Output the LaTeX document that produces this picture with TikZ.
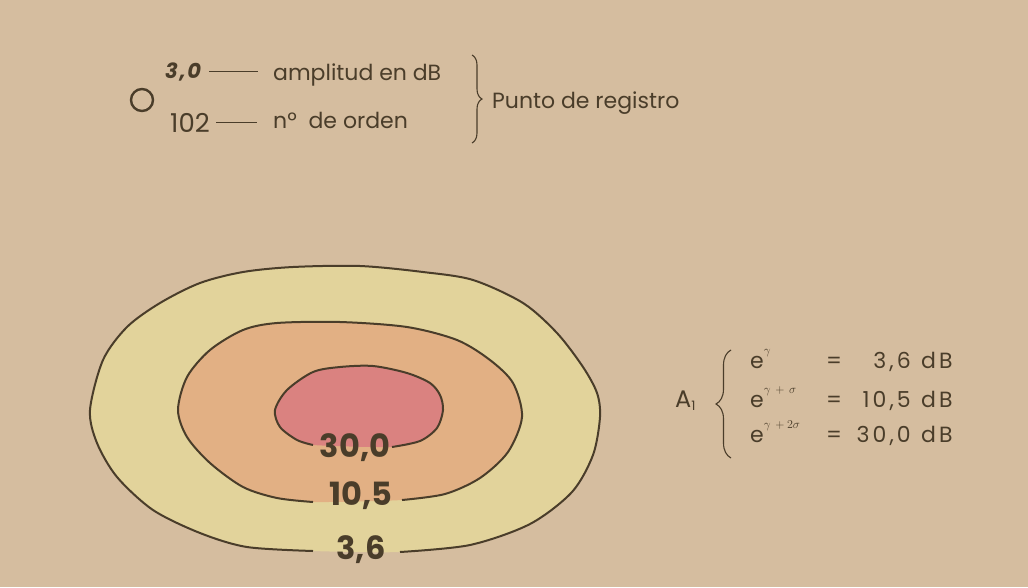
\documentclass[tikz,border=0pt]{standalone}
\usepackage{fontspec}
\setmainfont{Poppins}
\usetikzlibrary{decorations.pathreplacing,calc}
\definecolor{paper}{HTML}{D5BD9F}
\definecolor{zoneA}{HTML}{E2D39B}
\definecolor{zoneB}{HTML}{E2B084}
\definecolor{zoneC}{HTML}{DA8280}
\definecolor{ink}{HTML}{4A3D2A}
\newcommand{\gsup}[1]{\raisebox{0.6em}{\fontsize{13}{13}\selectfont$#1$}}

\begin{document}
\begin{tikzpicture}[x=1pt,y=-1pt,
  txt/.style={inner sep=0pt,text=ink,anchor=base west,font=\fontsize{22}{22}\selectfont},
  eq/.style={inner sep=0pt,text=ink,anchor=base west,font=\fontsize{22}{22}\selectfont\addfontfeature{LetterSpace=14}},
  iso/.style={inner sep=0pt,text=ink,font=\fontsize{32}{32}\selectfont\bfseries},
  contour/.style={draw=ink,line width=2pt},
  lead/.style={draw=ink,line width=1.3pt},
  curly/.style={draw=ink,line width=1.1pt,decorate}]
\fill[paper] (0,0) rectangle (1028,587);
\useasboundingbox (0,0) rectangle (1028,587);

% contour zones
\fill[zoneA] plot[smooth cycle,tension=0.5] coordinates {(400,552) (470,545) (530,524) (572,492) (593,455) (600,417) (597,393) (583,367) (557,333) (523,303) (473,280) (423,272) (360,266) (293,267) (243,272) (200,283) (160,303) (127,327) (103,360) (90,410) (97,443) (117,477) (153,510) (200,533) (247,547) (313,551)};
\fill[zoneB] plot[smooth cycle,tension=0.5] coordinates {(402,500) (445,494) (480,478) (508,452) (522,417) (513,383) (490,360) (457,340) (407,327) (340,322) (277,323) (243,330) (210,350) (187,377) (178,410) (187,437) (210,463) (243,487) (277,498) (313,502)};
\fill[zoneC] plot[smooth cycle,tension=0.5] coordinates {(392,447) (420,441) (437,428) (443,410) (440,395) (430,383) (407,373) (373,366) (340,367) (313,372) (287,390) (275,410) (280,427) (297,440) (313,445)};
\draw[contour] plot[smooth,tension=0.5] coordinates {(400,552) (470,545) (530,524) (572,492) (593,455) (600,417) (597,393) (583,367) (557,333) (523,303) (473,280) (423,272) (360,266) (293,267) (243,272) (200,283) (160,303) (127,327) (103,360) (90,410) (97,443) (117,477) (153,510) (200,533) (247,547) (313,551)};
\draw[contour] plot[smooth,tension=0.5] coordinates {(402,500) (445,494) (480,478) (508,452) (522,417) (513,383) (490,360) (457,340) (407,327) (340,322) (277,323) (243,330) (210,350) (187,377) (178,410) (187,437) (210,463) (243,487) (277,498) (313,502)};
\draw[contour] plot[smooth,tension=0.5] coordinates {(392,447) (420,441) (437,428) (443,410) (440,395) (430,383) (407,373) (373,366) (340,367) (313,372) (287,390) (275,410) (280,427) (297,440) (313,445)};

\node[iso] (iso30) at (355,448) {30,0};
\node[iso] (iso105) at (361,496) {10,5};
\node[iso] (iso36) at (361,550) {3,6};

% legend
\draw[ink,line width=2.4pt] (142,100) circle (11);
\node[txt,font=\fontsize{21}{21}\selectfont\bfseries\itshape\addfontfeature{LetterSpace=8}] (ampval) at (165,78) {3,0};
\node[txt] (ampdesc) at (273,80) {amplitud en dB};
\node[txt,font=\fontsize{26}{26}\selectfont] (ordval) at (170,132) {102};
\node[txt] (orddesc) at (273,128) {nº\ \ de orden};
\draw[lead,shorten <=8pt,shorten >=15pt] (ampval.east) -- (ampval.east -| ampdesc.west);
\draw[lead,shorten <=6pt,shorten >=16pt] (ordval.east) -- (ordval.east -| orddesc.west);
\coordinate (legtop) at (472,55);
\coordinate (legbot) at (472,143);
\draw[curly,decoration={brace,amplitude=10pt}] (legtop) -- (legbot);
\node[txt] (punto) at (492,108) {Punto de registro};

% A1 values
\node[txt,font=\fontsize{24}{24}\selectfont] (aone) at (675,407) {A\raisebox{-0.15em}{\fontsize{13}{13}\selectfont 1}};
\coordinate (abot) at (731,458);
\coordinate (atop) at (731,350);
\draw[curly,decoration={brace,amplitude=15pt}] (abot) -- (atop);
\node[eq] (e1) at (750,368) {e\gsup{\gamma}};
\node[eq] (e2) at (750,407) {e\gsup{\gamma\,+\,\sigma}};
\node[eq] (e3) at (750,442) {e\gsup{\gamma\,+2\sigma}};
\node[eq] (q1) at (826,368) {=};
\node[eq] (q2) at (826,407) {=};
\node[eq] (q3) at (826,442) {=};
\node[eq,anchor=base east] (v1) at (911,368) {3,6};
\node[eq,anchor=base east] (v2) at (911,407) {10,5};
\node[eq,anchor=base east] (v3) at (911,442) {30,0};
\node[eq] (d1) at (921,368) {dB};
\node[eq] (d2) at (921,407) {dB};
\node[eq] (d3) at (921,442) {dB};
\end{tikzpicture}
\end{document}
